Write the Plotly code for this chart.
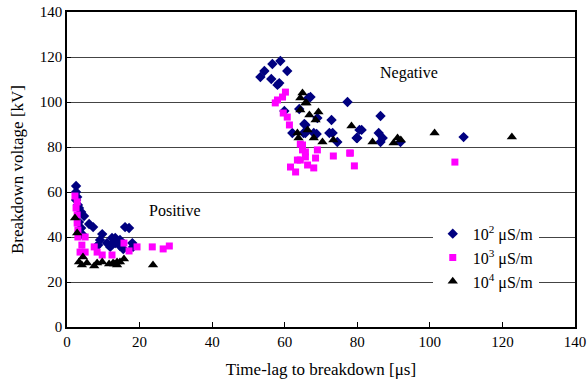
import plotly.graph_objects as go

# Breakdown voltage vs. time-lag, grouped by water conductivity
# 10^2 uS/m
x_1e2 = [53.3, 54.4, 56.6, 58.8, 60.7, 56.3, 58.0, 58.5, 59.9, 62.1, 65.2, 66.5, 64.0, 65.7,
         67.1, 77.3, 72.9, 69.0, 65.4, 65.7, 68.0, 68.8, 72.3, 73.2, 74.5, 80.0, 80.6,
         86.4, 81.2, 79.8, 85.9, 87.0, 86.4, 91.9, 109.3,
         2.5, 2.5, 2.8, 2.5, 3.0, 3.3, 3.9, 4.7, 3.3, 3.9, 6.1, 7.2, 4.4, 9.7, 9.1, 8.6, 8.0,
         11.0, 12.4, 13.3, 11.9, 14.6, 16.0, 17.1, 13.3, 12.7, 14.6, 15.5, 18.0, 18.2]
y_1e2 = [111.1, 113.8, 116.9, 118.2, 113.8, 110.2, 107.6, 108.4, 96.0, 86.2, 86.2, 101.8, 96.9, 89.8,
         102.2, 100.0, 92.0, 92.9, 90.2, 86.2, 86.2, 85.8, 86.2, 86.2, 82.2, 84.0, 87.6,
         93.8, 87.6, 84.0, 86.2, 84.0, 82.2, 82.2, 84.4,
         62.7, 60.0, 57.8, 56.4, 54.2, 52.9, 51.1, 49.3, 46.7, 44.0, 45.8, 44.4, 40.9, 41.3, 38.7, 36.4, 35.6,
         37.3, 39.6, 37.3, 35.6, 38.7, 44.4, 44.0, 39.6, 37.3, 36.0, 34.7, 37.3, 35.6]

# 10^3 uS/m
x_1e3 = [60.2, 59.4, 57.4, 58.0, 59.6, 60.7, 61.3, 64.3, 64.9, 63.5, 61.6, 63.0, 65.7, 66.3,
         64.9, 65.7, 69.0, 68.5, 68.0, 73.4, 77.9, 79.2, 64.3, 78.1, 106.9,
         2.2, 2.8, 2.5, 2.8, 2.8, 3.0, 3.0, 4.1, 5.0, 7.5, 8.3, 9.7, 12.4, 5.0, 3.6,
         15.7, 17.1, 19.3, 23.5, 26.5, 28.2]
y_1e3 = [104.4, 102.2, 99.6, 100.9, 95.1, 93.3, 89.8, 81.3, 78.7, 74.2, 71.1, 68.9, 75.6, 72.0,
         80.9, 77.8, 78.7, 75.1, 70.7, 76.0, 77.3, 71.6, 74.2, 77.3, 73.3,
         58.2, 55.6, 52.9, 49.8, 46.2, 43.1, 40.0, 36.4, 40.0, 35.6, 33.3, 32.0, 32.0, 33.3, 33.3,
         37.3, 33.8, 35.6, 35.6, 34.7, 36.0]

# 10^4 uS/m
x_1e4 = [64.9, 64.3, 65.7, 64.3, 63.5, 63.8, 66.3, 66.0, 69.3, 66.8, 68.5, 78.4, 70.4, 73.4, 68.0,
         84.2, 90.0, 91.1, 92.0, 101.3, 122.6,
         3.3, 4.1, 5.5, 7.5, 8.3, 9.7, 11.6, 13.0, 13.8, 14.6, 2.2, 2.8, 4.4, 12.7, 13.8, 15.7, 23.7]
y_1e4 = [104.0, 101.8, 99.6, 96.4, 86.2, 84.0, 87.6, 99.6, 95.6, 94.2, 92.0, 89.3, 82.2, 83.1, 84.0,
         82.2, 81.8, 84.0, 83.1, 86.2, 84.4,
         28.9, 27.6, 28.4, 27.1, 28.4, 28.9, 28.0, 28.0, 27.6, 28.9, 48.4, 41.8, 31.1, 28.4, 28.9, 30.2, 27.6]

series = [
    ("10<sup>2</sup> μS/m", x_1e2, y_1e2, "diamond", "#000080", 8),
    ("10<sup>3</sup> μS/m", x_1e3, y_1e3, "square", "#FF00FF", 7),
    ("10<sup>4</sup> μS/m", x_1e4, y_1e4, "triangle-up", "#000000", 9),
]

FONT = "Liberation Serif"

fig = go.Figure()
for name, xs, ys, sym, col, sz in series:
    fig.add_trace(go.Scatter(
        x=xs, y=ys, mode="markers", name=name,
        marker=dict(symbol=sym, color=col, size=sz, line=dict(width=0)),
    ))

fig.add_annotation(x=29.8, y=52, text="Positive", showarrow=False,
                   font=dict(family=FONT, size=16, color="black"))
fig.add_annotation(x=94.2, y=113, text="Negative", showarrow=False,
                   font=dict(family=FONT, size=16, color="black"))

fig.update_layout(
    width=588, height=391,
    margin=dict(l=67, r=13, t=12, b=64, autoexpand=False),
    paper_bgcolor="white", plot_bgcolor="white",
    font=dict(family=FONT, size=15, color="black"),
    showlegend=True,
    legend=dict(x=0.72, y=0.35, xanchor="left", yanchor="top",
                bgcolor="white", borderwidth=0,
                font=dict(family=FONT, size=16, color="black"),
                itemsizing="trace", tracegroupgap=0),
    xaxis=dict(range=[0, 140], dtick=20, tick0=0, automargin=False,
               showgrid=False, zeroline=False,
               showline=True, linecolor="black", linewidth=1.5, mirror=True,
               ticks="inside", ticklen=5, tickcolor="black",
               title=dict(text="Time-lag to breakdown [μs]", standoff=14,
                          font=dict(family=FONT, size=17))),
    yaxis=dict(range=[0, 140], dtick=20, tick0=0, automargin=False,
               showgrid=True, gridcolor="#444444", gridwidth=1.2,
               zeroline=False,
               showline=True, linecolor="black", linewidth=1.5, mirror=True,
               ticks="inside", ticklen=4, tickcolor="black",
               title=dict(text="Breakdown voltage [kV]", standoff=12,
                          font=dict(family=FONT, size=17))),
)

fig.write_html("out.html")
